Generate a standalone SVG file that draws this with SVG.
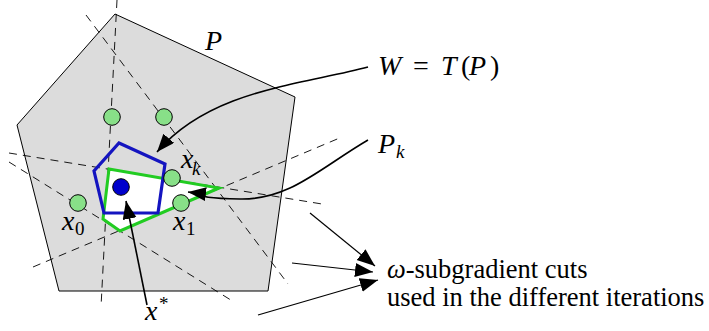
<svg xmlns="http://www.w3.org/2000/svg" width="709" height="331" viewBox="0 0 709 331">
<style>
.cut{stroke:#000;stroke-width:0.9;stroke-dasharray:8,6;fill:none}
.pt{fill:#88e088;stroke:#000;stroke-width:1}
.arr{stroke:#000;fill:none;stroke-width:1.6;marker-end:url(#ah)}
.arr2{stroke:#000;fill:none;stroke-width:1.2;marker-end:url(#ah)}
.m{font-family:"Liberation Serif","DejaVu Serif",serif;font-style:italic;font-size:28px;fill:#000}
.r{font-family:"Liberation Serif","DejaVu Serif",serif;font-style:normal;font-size:28px;fill:#000}
.sub{font-family:"Liberation Serif","DejaVu Serif",serif;font-size:19px;fill:#000}
.t{font-family:"Liberation Serif","DejaVu Serif",serif;font-size:26.5px;fill:#000}
</style>
<defs>
<marker id="ah" markerUnits="userSpaceOnUse" markerWidth="20" markerHeight="16" refX="18" refY="7" orient="auto">
<path d="M0,0 L18,7 L0,14 Z" fill="#000"/>
</marker>
</defs>
<g id="polytope">
<polygon points="115,14 295,97 268,291 59,291 17,125" fill="#dcdcdc" stroke="#000" stroke-width="1"/>
<text class="m" x="205" y="50">P</text>
</g>
<g id="cuts">
<line class="cut" x1="117" y1="0" x2="101" y2="307"/>
<line class="cut" x1="86" y1="15" x2="288" y2="284"/>
<line class="cut" x1="9" y1="153" x2="322" y2="204"/>
<line class="cut" x1="9" y1="162" x2="234" y2="302"/>
<line class="cut" x1="33" y1="267" x2="342" y2="137"/>
</g>
<g id="Pk">
<polygon points="109,169 219,188 120,231 103,219" fill="#fff" stroke="#22cc22" stroke-width="3" stroke-linejoin="miter"/>
</g>
<g id="W">
<polygon points="119,143 165,164 158,213 104,213 94,171" fill="none" stroke="#1414c0" stroke-width="3.2"/>
</g>
<g id="points">
<circle class="pt" cx="112" cy="117" r="8.3"/>
<circle class="pt" cx="164" cy="117" r="8.3"/>
<circle class="pt" cx="172" cy="178" r="8.3"/>
<circle class="pt" cx="181" cy="203" r="8.3"/>
<circle class="pt" cx="78" cy="203" r="8.3"/>
</g>
<g id="xstar">
<circle cx="121" cy="187" r="8.3" fill="#0000cc" stroke="#000" stroke-width="1"/>
</g>
<g id="connectors">
<path class="arr" d="M368,67 C300,85 210,90 157,152"/>
<path class="arr" d="M368,140 C320,168 290,200 240,199 S205,194 188,192"/>
<path class="arr" d="M147,305 L126,201"/>
<path class="arr2" d="M310,213 L375,266"/>
<path class="arr2" d="M292,263 L373,272"/>
<path class="arr2" d="M258,315 L378,280"/>
</g>
<g id="labels">
<text class="m" x="378" y="75">W</text>
<text class="r" x="413" y="75">=</text>
<text class="m" x="441" y="75">T</text>
<text class="r" x="461" y="75">(</text>
<text class="m" x="469" y="75">P</text>
<text class="r" x="490" y="75">)</text>
<text class="m" x="378" y="153">P</text>
<text class="sub" x="396" y="158" font-style="italic">k</text>
<text class="m" x="181" y="168">x</text>
<text class="sub" x="192" y="175" font-style="italic">k</text>
<text class="m" x="62" y="230">x</text>
<text class="sub" x="75" y="235">0</text>
<text class="m" x="173" y="230">x</text>
<text class="sub" x="186" y="235">1</text>
<text class="m" x="145" y="320">x</text>
<text class="sub" x="159" y="310">*</text>
<text class="t" x="387" y="278"><tspan font-style="italic">ω</tspan>-subgradient cuts</text>
<text class="t" x="387" y="306">used in the different iterations</text>
</g>
</svg>
